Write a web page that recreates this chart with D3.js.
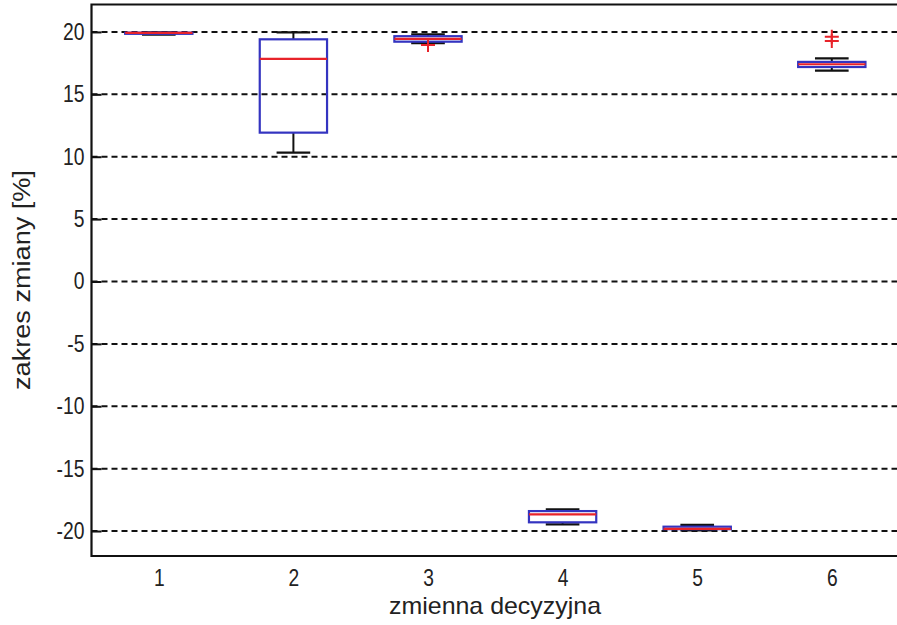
<!DOCTYPE html>
<html>
<head>
<meta charset="utf-8">
<script src="https://cdn.jsdelivr.net/npm/d3@7"></script>
<style>
  html, body { margin: 0; padding: 0; background: #fff; }
  text { font-family: "Liberation Sans", Arial, sans-serif; fill: #222; }
</style>
</head>
<body>
<svg id="chart" width="897" height="625"></svg>
<script>
// box plot values
var categories = [1, 2, 3, 4, 5, 6];
var whiskerLow  = [19.78, 10.33, 19.10, -19.46, -19.95, 16.90];
var quartile1   = [19.85, 11.93, 19.22, -19.30, -19.85, 17.19];
var medians     = [19.92, 17.84, 19.44, -18.66, -19.82, 17.41];
var quartile3   = [19.94, 19.41, 19.66, -18.40, -19.65, 17.60];
var whiskerHigh = [19.97, 19.97, 19.80, -18.26, -19.50, 17.89];
var outliers    = [[], [], [18.95], [], [], [19.62, 19.28]];
var yTicks = [-20, -15, -10, -5, 0, 5, 10, 15, 20];

var xLabel = "zmienna decyzyjna";
var yLabel = "zakres zmiany [%]";

(function() {
  var svg = d3.select("#chart");

  var left = 91.5, top = 4.5, bottom = 556;
  var boxWidth = 0.5, capWidth = 0.25;
  var squeeze = 0.84;

  var x = d3.scaleLinear().domain([0.5, 6.5]).range([left, left + 6 * 134.6]);
  var y = d3.scaleLinear().domain([-22, 22.2]).range([bottom, top]);

  var blue = "#3434c0", red = "#e8232a";

  var rows = categories.map(function(c, i) {
    return {
      cat: c, lo: whiskerLow[i], q1: quartile1[i], med: medians[i],
      q3: quartile3[i], hi: whiskerHigh[i], out: outliers[i]
    };
  });

  // dashed grid lines
  svg.append("g").selectAll("line")
    .data(yTicks)
    .enter().append("line")
    .attr("x1", left).attr("x2", 897)
    .attr("y1", function(d) { return y(d); })
    .attr("y2", function(d) { return y(d); })
    .attr("stroke", "#111")
    .attr("stroke-width", 2)
    .attr("stroke-dasharray", "6,4");

  // y axis: ticks point inward, labels at the left
  var yAxis = d3.axisLeft(y).tickValues(yTicks).tickSizeInner(-10).tickSizeOuter(0)
    .tickFormat(function(d) { return String(d); });
  var gy = svg.append("g").attr("transform", "translate(" + left + ",0)").call(yAxis);
  gy.select(".domain").remove();
  gy.selectAll(".tick line").attr("stroke", "#111").attr("stroke-width", 2);
  gy.selectAll(".tick text")
    .attr("font-size", 23)
    .attr("fill", "#222")
    .style("font-family", "'Liberation Sans', Arial, sans-serif")
    .attr("transform", "scale(" + squeeze + ",1)")
    .attr("x", -7 / squeeze);

  // x axis: labels only
  var xAxis = d3.axisBottom(x).tickValues(categories).tickSize(0).tickPadding(13)
    .tickFormat(function(d) { return String(d); });
  var gx = svg.append("g").attr("transform", "translate(0," + bottom + ")").call(xAxis);
  gx.select(".domain").remove();
  gx.selectAll(".tick text")
    .attr("font-size", 24)
    .attr("fill", "#222")
    .style("font-family", "'Liberation Sans', Arial, sans-serif")
    .attr("transform", "scale(0.8,1)");

  var boxes = svg.append("g").selectAll("g.box")
    .data(rows)
    .enter().append("g")
    .attr("class", "box");

  // whiskers
  boxes.append("line")
    .attr("x1", function(d) { return x(d.cat); })
    .attr("x2", function(d) { return x(d.cat); })
    .attr("y1", function(d) { return y(d.hi); })
    .attr("y2", function(d) { return y(d.q3); })
    .attr("stroke", "#111").attr("stroke-width", 2);
  boxes.append("line")
    .attr("x1", function(d) { return x(d.cat); })
    .attr("x2", function(d) { return x(d.cat); })
    .attr("y1", function(d) { return y(d.lo); })
    .attr("y2", function(d) { return y(d.q1); })
    .attr("stroke", "#111").attr("stroke-width", 2);

  // caps
  ["hi", "lo"].forEach(function(k) {
    boxes.append("line")
      .attr("x1", function(d) { return x(d.cat - capWidth / 2); })
      .attr("x2", function(d) { return x(d.cat + capWidth / 2); })
      .attr("y1", function(d) { return y(d[k]); })
      .attr("y2", function(d) { return y(d[k]); })
      .attr("stroke", "#111").attr("stroke-width", 2.2);
  });

  // box
  boxes.append("rect")
    .attr("x", function(d) { return x(d.cat - boxWidth / 2); })
    .attr("width", function(d) { return x(boxWidth) - x(0); })
    .attr("y", function(d) { return y(d.q3); })
    .attr("height", function(d) { return Math.max(y(d.q1) - y(d.q3), 0.5); })
    .attr("fill", "none")
    .attr("stroke", blue).attr("stroke-width", 2.2);

  // median
  boxes.append("line")
    .attr("x1", function(d) { return x(d.cat - boxWidth / 2); })
    .attr("x2", function(d) { return x(d.cat + boxWidth / 2); })
    .attr("y1", function(d) { return y(d.med); })
    .attr("y2", function(d) { return y(d.med); })
    .attr("stroke", red).attr("stroke-width", 2.2);

  // outliers as red plus signs
  boxes.selectAll("path.out")
    .data(function(d) { return d.out.map(function(v) { return { cat: d.cat, v: v }; }); })
    .enter().append("path")
    .attr("class", "out")
    .attr("d", function(d) {
      var cx = x(d.cat), cy = y(d.v), r = 7;
      return "M" + (cx - r) + "," + cy + "H" + (cx + r) + "M" + cx + "," + (cy - r) + "V" + (cy + r);
    })
    .attr("stroke", red).attr("stroke-width", 2).attr("fill", "none");

  // frame
  svg.append("path")
    .attr("d", "M900," + top + "H" + left + "V" + bottom + "H900")
    .attr("fill", "none")
    .attr("stroke", "#111")
    .attr("stroke-width", 2.2);

  // axis titles
  svg.append("text")
    .attr("x", 495).attr("y", 614)
    .attr("text-anchor", "middle")
    .attr("font-size", 24)
    .attr("textLength", 212)
    .attr("lengthAdjust", "spacingAndGlyphs")
    .text(xLabel);

  svg.append("text")
    .attr("transform", "translate(30,280) rotate(-90)")
    .attr("text-anchor", "middle")
    .attr("font-size", 23)
    .attr("textLength", 220)
    .attr("lengthAdjust", "spacingAndGlyphs")
    .text(yLabel);
}());
</script>
</body>
</html>
